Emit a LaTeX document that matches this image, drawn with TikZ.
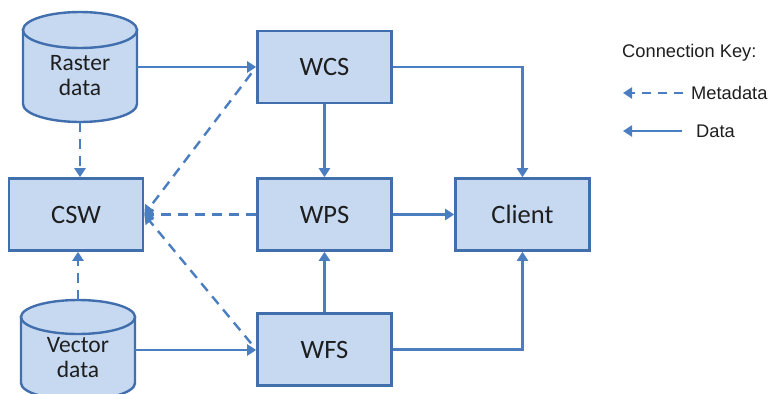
\documentclass[tikz,border=0pt]{standalone}
\usepackage{fontspec}
\setmainfont{Carlito}
\newfontfamily\keyfont{Liberation Sans}
\usetikzlibrary{arrows.meta,calc}
\definecolor{boxfill}{HTML}{C6D9F1}
\definecolor{boxline}{HTML}{416FAD}
\definecolor{link}{HTML}{4A7EC0}
\definecolor{ink}{HTML}{1E1E1E}

\begin{document}
\begin{tikzpicture}[x=1pt,y=-1pt,
  svc/.style={draw=boxline, fill=boxfill, line width=2.6pt, minimum width=134pt,
    minimum height=72pt, inner sep=0pt, text=ink, font=\fontsize{26.5}{30}\selectfont},
  store/.style={inner sep=0pt, outer sep=0pt, minimum width=114pt},
  storeline/.style={draw=boxline, fill=boxfill, line width=2.4pt},
  storetext/.style={text=ink, align=center, inner sep=0pt, font=\fontsize{23.5}{25}\selectfont},
  dataflow/.style={draw=link, line width=2.4pt, -{Triangle[length=9pt,width=11pt]}},
  metaflow/.style={dataflow, dash pattern=on 10pt off 7pt},
  keytext/.style={font=\keyfont\fontsize{18.3}{20}\selectfont, text=ink, anchor=west, inner sep=0pt}
]
\useasboundingbox (0,0) rectangle (772,394);
\clip (0,0) rectangle (772,394);

% services
\node[svc] (wcs)    at (324.5,67)    {WCS};
\node[svc] (wps)    at (324.5,214.5) {WPS};
\node[svc] (wfs)    at (324.5,349.5) {WFS};
\node[svc] (client) at (522.5,214.5) {Client};
\node[svc] (csw)    at (76,214.5)    {CSW};

% data stores (cylinders)
\node[store, minimum height=110pt] (raster) at (80,67) {};
\node[store, minimum height=100pt] (vector) at (78,350) {};

\draw[storeline] ($(raster.north west)+(0,18)$) -- ($(raster.south west)+(0,-18)$)
  arc[start angle=180, end angle=0, x radius=57, y radius=18]
  -- ($(raster.north east)+(0,18)$) -- cycle;
\draw[storeline] ($(raster.north)+(0,18)$) ellipse[x radius=57, y radius=18];

\draw[storeline] ($(vector.north west)+(0,17)$) -- ($(vector.south west)+(0,-17)$)
  arc[start angle=180, end angle=0, x radius=57, y radius=17]
  -- ($(vector.north east)+(0,17)$) -- cycle;
\draw[storeline] ($(vector.north)+(0,17)$) ellipse[x radius=57, y radius=17];

\node[storetext] (rastertext) at (80,76)  {Raster\\data};
\node[storetext] (vectortext) at (78,358) {Vector\\data};

% data connections
\draw[dataflow] (raster.east) -- (raster.east -| wcs.west);
\draw[dataflow] (vector.east) -- (vector.east -| wfs.west);
\draw[dataflow] (wcs.south) -- (wps.north);
\draw[dataflow] (wfs.north) -- (wps.south);
\draw[dataflow] (wps.east) -- (client.west);
\draw[dataflow] (wcs.east) -| (client.north);
\draw[dataflow] (wfs.east) -| (client.south);

% metadata connections
\draw[metaflow] (raster.south) -- (raster.south |- csw.north);
\draw[metaflow] (vector.north) -- (vector.north |- csw.south);
\draw[metaflow] (wps.west) -- (csw.east);
\draw[metaflow, shorten <=8pt] (wcs.west) -- (csw.east);
\draw[metaflow, shorten <=8pt] (wfs.west) -- (csw.east);

% key
\node[keytext] (keytitle) at (622,53) {Connection Key:};
\coordinate (metaend) at (683,93);
\coordinate (metatip) at (623,93);
\coordinate (dataend) at (682,131);
\coordinate (datatip) at (623,131);
\draw[metaflow, dash pattern=on 9pt off 7pt] (metaend) -- (metatip);
\draw[dataflow] (dataend) -- (datatip);
\node[keytext] (metalabel) at (691,93)  {Metadata};
\node[keytext] (datalabel) at (696,131) {Data};
\end{tikzpicture}
\end{document}
